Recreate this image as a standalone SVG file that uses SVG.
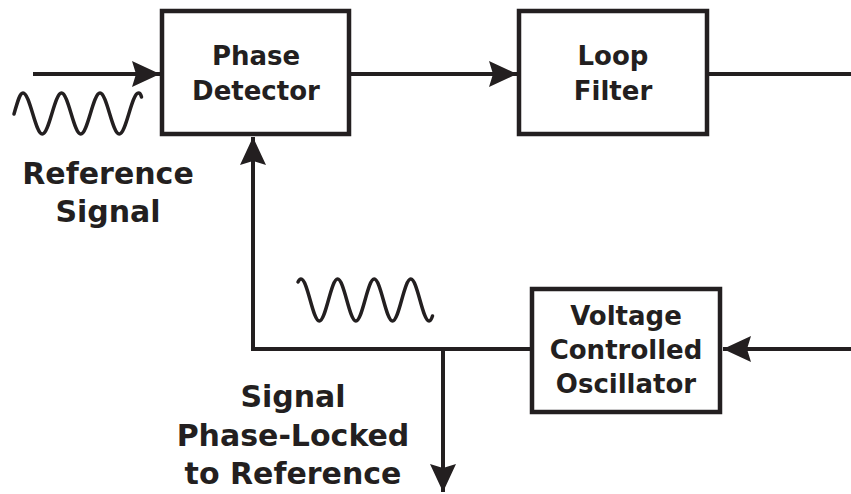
<svg xmlns="http://www.w3.org/2000/svg" width="851" height="494" viewBox="0 0 851 494">
<style>
.box{fill:#fff;stroke:#231f20;stroke-width:4.5}
.ln{fill:none;stroke:#231f20;stroke-width:4}
.wave{fill:none;stroke:#231f20;stroke-width:3.5;stroke-linecap:round;stroke-linejoin:round}
text{font-family:"DejaVu Sans","Liberation Sans",sans-serif;font-weight:bold;fill:#231f20;text-anchor:middle}
.bt{font-size:26px}
.lb{font-size:30px}
</style>
<defs>
<marker id="ah" markerUnits="userSpaceOnUse" markerWidth="28" markerHeight="26" refX="28" refY="13" orient="auto" viewBox="0 0 28 26">
<path d="M0,0 L28,13 L0,26 L4,13 Z" fill="#231f20"/>
</marker>
</defs>
<rect width="851" height="494" fill="#fff"/>
<g id="connectors">
<path class="ln" d="M33,74 L160,74" marker-end="url(#ah)"/>
<path class="ln" d="M350,74 L517,74" marker-end="url(#ah)"/>
<path class="ln" d="M708,74 L851,74"/>
<path class="ln" d="M851,349 L723,349" marker-end="url(#ah)"/>
<path class="ln" d="M532,349 L253,349 L253,137" marker-end="url(#ah)"/>
<path class="ln" d="M443,349 L443,492" marker-end="url(#ah)"/>
</g>
<g id="phase-detector">
<rect class="box" x="162" y="11" width="187" height="123"/>
<text class="bt" x="256" y="65">Phase</text>
<text class="bt" x="256" y="100">Detector</text>
</g>
<g id="loop-filter">
<rect class="box" x="519" y="11" width="188" height="123"/>
<text class="bt" x="613" y="65">Loop</text>
<text class="bt" x="613" y="100">Filter</text>
</g>
<g id="vco">
<rect class="box" x="532" y="289" width="188" height="123"/>
<text class="bt" x="626" y="325">Voltage</text>
<text class="bt" x="626" y="359">Controlled</text>
<text class="bt" x="626" y="393">Oscillator</text>
</g>
<g id="reference-signal">
<path class="wave" d="M14,114 C18,100 20,93 23,93 C30,93 35.3,134 42.25,134 C49.2,134 54.6,93 61.5,93 C68.4,93 73.8,134 80.75,134 C87.7,134 93.1,93 100,93 C106.9,93 112.3,134 119.25,134 C126.2,134 131.6,93 138.5,93 C140,93 141,95 141.5,97"/>
<text class="lb" x="108" y="184">Reference</text>
<text class="lb" x="108" y="222">Signal</text>
</g>
<g id="locked-signal">
<path class="wave" d="M298,282 C299,280 300,279 301,279 C307.6,279 312.7,321 319.3,321 C325.9,321 331,279 337.6,279 C344.2,279 349.3,321 355.9,321 C362.5,321 367.6,279 374.2,279 C380.8,279 385.9,321 392.5,321 C399.1,321 404.2,279 410.8,279 C417.4,279 422.5,321 429.1,321 C430.5,321 431.5,319 432.5,316"/>
<text class="lb" x="293" y="407">Signal</text>
<text class="lb" x="293" y="446">Phase-Locked</text>
<text class="lb" x="293" y="484">to Reference</text>
</g>
</svg>
